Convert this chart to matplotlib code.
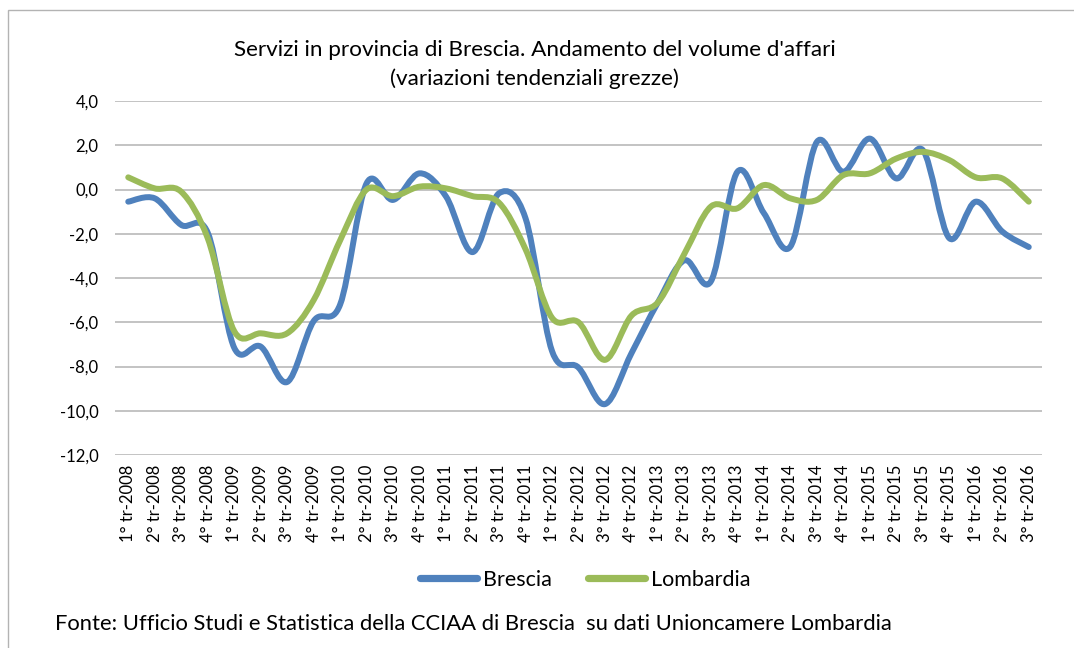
import matplotlib
matplotlib.use("Agg")
import matplotlib.pyplot as plt
from matplotlib.path import Path
from matplotlib.patches import PathPatch, Rectangle
from matplotlib.lines import Line2D
import numpy as np

plt.rcParams['font.family'] = ['Lato', 'DejaVu Sans']

# trimestri
anni = ['2008'] * 4 + ['2009'] * 4 + ['2010'] * 4 + ['2011'] * 4 + ['2012'] * 4 \
    + ['2013'] * 4 + ['2014'] * 4 + ['2015'] * 4 + ['2016'] * 3
trimestri = [1, 2, 3, 4] * 8 + [1, 2, 3]
etichette = [f"{t}° tr-{a}" for t, a in zip(trimestri, anni)]

brescia = [-0.55, -0.4, -1.6, -1.95, -7.15, -7.1, -8.7, -5.95, -5.2, 0.28,
           -0.47, 0.73, -0.32, -2.83, -0.17, -1.3, -7.3, -8.05, -9.7, -7.4,
           -5.1, -3.2, -4.15, 0.8, -1.07, -2.58, 2.15, 0.8, 2.3, 0.5,
           1.78, -2.2, -0.55, -1.9, -2.6]
lombardia = [0.55, 0.05, -0.1, -2.2, -6.4, -6.5, -6.5, -5.0, -2.3, 0.0,
             -0.3, 0.13, 0.05, -0.3, -0.6, -2.7, -5.8, -6.0, -7.7, -5.7,
             -5.1, -2.9, -0.77, -0.85, 0.2, -0.4, -0.47, 0.65, 0.73, 1.4,
             1.7, 1.33, 0.55, 0.5, -0.55]

col_brescia = '#4F81BD'
col_lombardia = '#9BBB59'


def linea_smussata(ax, y, colore):
    # curva di Bezier come la "linea smussata" di Excel
    x = np.arange(len(y), dtype=float)
    p = np.column_stack([x, np.array(y, dtype=float)])
    verts = [p[0]]
    codes = [Path.MOVETO]
    n = len(p)
    for i in range(n - 1):
        p0 = p[i - 1] if i > 0 else p[i]
        p3 = p[i + 2] if i + 2 < n else p[i + 1]
        c1 = p[i] + (p[i + 1] - p0) / 6.0
        c2 = p[i + 1] - (p3 - p[i]) / 6.0
        verts += [c1, c2, p[i + 1]]
        codes += [Path.CURVE4] * 3
    patch = PathPatch(Path(verts, codes), facecolor='none', edgecolor=colore,
                      lw=4.3, capstyle='round', joinstyle='round', zorder=3)
    ax.add_patch(patch)


fig = plt.figure(figsize=(10.74, 6.48), dpi=100)
ax = fig.add_axes([115 / 1074, 1 - 455 / 648, 927 / 1074, 354 / 648])

linea_smussata(ax, brescia, col_brescia)
linea_smussata(ax, lombardia, col_lombardia)

ax.set_xlim(-0.5, len(etichette) - 0.5)
ax.set_ylim(-12, 4)
ax.set_yticks(np.arange(-12, 4.1, 2))
ax.set_yticklabels([f"{v:.1f}".replace('.', ',') for v in np.arange(-12, 4.1, 2)])
ax.set_xticks(np.arange(len(etichette)))
ax.set_xticklabels(etichette, rotation=90)
ax.tick_params(axis='both', length=0, colors='#000000')
ax.tick_params(axis='y', pad=12, labelsize=12)
ax.tick_params(axis='x', pad=7, labelsize=12)
ax.grid(axis='y', color='#B3B3B3', lw=1.1)
ax.set_axisbelow(True)
for s in ax.spines.values():
    s.set_visible(False)

fig.text(0.498, 1 - 50 / 648, "Servizi in provincia di Brescia. Andamento del volume d'affari",
         ha='center', va='center', fontsize=16.2)
fig.text(0.498, 1 - 79 / 648, "(variazioni tendenziali grezze)",
         ha='center', va='center', fontsize=16.2)

handles = [Line2D([], [], color=col_brescia, lw=5.2, solid_capstyle='round'),
           Line2D([], [], color=col_lombardia, lw=5.2, solid_capstyle='round')]
fig.legend(handles, ['Brescia', 'Lombardia'], loc='center', ncol=2,
           bbox_to_anchor=(0.545, 1 - 580 / 648), frameon=False, fontsize=15.5,
           handlelength=2.65, handletextpad=0.25, columnspacing=1.7)

fig.text(55 / 1074, 1 - 624 / 648,
         "Fonte: Ufficio Studi e Statistica della CCIAA di Brescia  su dati Unioncamere Lombardia",
         ha='left', va='center', fontsize=15.8)

# cornice del grafico
fig.patches.append(Rectangle((8 / 1074, -0.1), 1.2, 1 - 10 / 648 + 0.1,
                             transform=fig.transFigure, fill=False,
                             edgecolor='#B3B3B3', lw=1.0))

fig.savefig('out.png', dpi=100)
